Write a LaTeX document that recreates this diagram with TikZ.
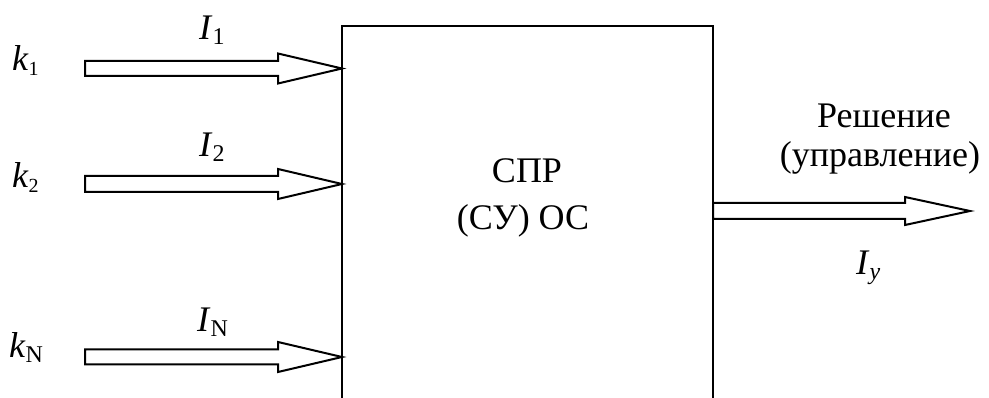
\documentclass[tikz,border=0pt]{standalone}
\usepackage{fontspec}
\setmainfont{Liberation Serif}
\usetikzlibrary{calc}
\newcommand\sbs[2]{\raisebox{-5pt}{\fontsize{#1}{#1}\selectfont #2}}
\newcommand\hollowarrow[5]{%
  \draw[blockarrow] ($(#1)+(0,-#3)$) -- ($(#2)+(-#5,-#3)$) -- ($(#2)+(-#5,-#4)$) -- (#2)
    -- ($(#2)+(-#5,#4)$) -- ($(#2)+(-#5,#3)$) -- ($(#1)+(0,#3)$) -- cycle;}
\begin{document}
\begin{tikzpicture}[x=1pt,y=-1pt,
  lbl/.style={inner sep=0pt, font=\fontsize{36}{40}\selectfont},
  blockarrow/.style={line width=2pt, line join=miter, fill=white},
  blockbox/.style={draw, line width=2pt, inner sep=0pt, outer sep=0pt}]
\useasboundingbox (0,0) rectangle (989,398);
\clip (0,0) rectangle (989,398);
\node[blockbox, minimum width=371pt, minimum height=420pt, anchor=north west] (box) at (342,26.5) {};
\node[lbl, anchor=base] (t1) at (527,183) {СПР};
\node[lbl, anchor=base] (t2) at (523,230) {(СУ) ОС};
% inputs
\node[lbl, anchor=base west] (k1) at (12,71) {\textit{k}\sbs{20}{1}};
\node[lbl, anchor=base west] (k2) at (12,188) {\textit{k}\sbs{20}{2}};
\node[lbl, anchor=base west] (kN) at (9,358) {\textit{k}\sbs{24}{N}};
\node[lbl, anchor=base west] (i1) at (199,40) {\textit{I}\sbs{24}{1}};
\node[lbl, anchor=base west] (i2) at (199,157) {\textit{I}\sbs{24}{2}};
\node[lbl, anchor=base west] (iN) at (197,332) {\textit{I}\sbs{24}{N}};
\coordinate (a1s) at (85,68.5);
\coordinate (a2s) at (85,184);
\coordinate (aNs) at (85,357);
\coordinate (a1e) at (box.west |- a1s);
\coordinate (a2e) at (box.west |- a2s);
\coordinate (aNe) at (box.west |- aNs);
\hollowarrow{a1s}{a1e}{7.5}{15}{64}
\hollowarrow{a2s}{a2e}{8}{15}{64}
\hollowarrow{aNs}{aNe}{7.5}{15}{64}
% output
\coordinate (os) at (box.east |- 0,211);
\coordinate (oe) at (970,211);
\hollowarrow{os}{oe}{8}{14}{65}
\node[lbl, anchor=base] (r1) at (884,128) {Решение};
\node[lbl, anchor=base] (r2) at (880,167) {(управление)};
\node[lbl, anchor=base west] (iy) at (856,275) {\textit{I}\sbs{24}{\textit{y}}};
\end{tikzpicture}
\end{document}
